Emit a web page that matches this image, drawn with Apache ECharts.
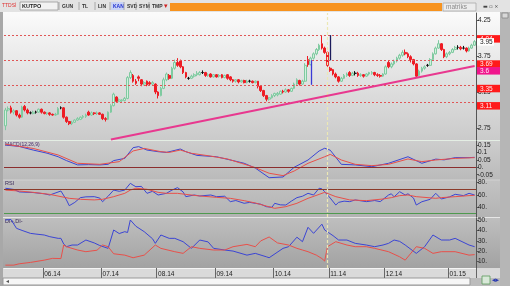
<!DOCTYPE html>
<html><head><meta charset="utf-8">
<script src="https://cdn.jsdelivr.net/npm/echarts@6/dist/echarts.min.js"></script>
<style>html,body{margin:0;padding:0;background:#bdbdbd;}#c{width:510px;height:286px;}</style>
</head><body><div id="c"></div>
<script>
// ---- DATA ----
// candles: [open, close, low, high]
const candles = [
[2.78,3.00,2.72,3.03],[3.00,3.02,2.98,3.05],[3.03,2.97,2.95,3.06],[2.97,2.99,2.94,3.01],[2.99,2.93,2.91,3.00],
[2.93,2.90,2.88,2.95],[2.90,3.04,2.89,3.06],[3.05,3.00,2.98,3.07],[3.00,2.96,2.94,3.02],[2.96,2.96,2.94,2.98],
[2.95,2.97,2.94,2.99],[2.97,2.97,2.95,2.99],[2.97,3.01,2.96,3.02],[3.01,2.97,2.95,3.02],[2.97,2.95,2.94,2.98],
[2.95,2.96,2.93,2.97],[2.96,2.94,2.92,2.97],[2.94,2.93,2.92,2.95],[2.93,2.94,2.92,2.96],[2.94,3.02,2.93,3.04],
[3.03,3.03,3.01,3.05],[3.03,2.90,2.88,3.04],[2.90,2.84,2.82,2.91],[2.84,2.81,2.79,2.85],[2.81,2.83,2.79,2.85],
[2.83,2.86,2.82,2.87],[2.86,2.88,2.85,2.90],[2.87,2.90,2.86,2.91],[2.90,2.91,2.88,2.93],[2.91,2.93,2.89,2.95],
[2.97,2.93,2.92,2.99],[2.93,2.96,2.92,2.98],[2.96,2.95,2.93,2.97],[2.95,2.96,2.93,2.98],[2.96,2.94,2.93,2.97],
[2.94,2.88,2.86,2.95],[2.88,2.87,2.84,2.90],[2.87,2.97,2.86,2.98],[2.97,3.06,2.96,3.08],[3.06,3.22,3.05,3.24],
[3.18,3.12,3.10,3.19],[3.12,3.14,3.11,3.16],[3.13,3.14,3.11,3.15],[3.13,3.16,3.12,3.18],[3.16,3.45,3.15,3.47],
[3.45,3.52,3.43,3.55],[3.48,3.40,3.38,3.50],[3.40,3.37,3.35,3.43],[3.46,3.44,3.40,3.48],[3.42,3.36,3.33,3.43],
[3.36,3.38,3.34,3.40],[3.40,3.35,3.33,3.41],[3.38,3.36,3.34,3.40],[3.36,3.38,3.34,3.40],[3.36,3.25,3.22,3.37],
[3.25,3.20,3.16,3.26],[3.20,3.30,3.19,3.32],[3.30,3.42,3.29,3.45],[3.42,3.50,3.40,3.52],[3.48,3.44,3.42,3.50],
[3.44,3.58,3.43,3.60],[3.58,3.66,3.56,3.70],[3.66,3.62,3.60,3.72],[3.68,3.60,3.58,3.70],[3.60,3.52,3.50,3.61],
[3.52,3.46,3.44,3.53],[3.44,3.44,3.42,3.46],[3.44,3.47,3.43,3.49],[3.47,3.49,3.45,3.51],[3.49,3.51,3.47,3.54],
[3.49,3.52,3.48,3.54],[3.52,3.52,3.50,3.55],[3.52,3.48,3.46,3.53],[3.48,3.49,3.46,3.51],[3.50,3.46,3.45,3.51],
[3.46,3.49,3.45,3.50],[3.49,3.46,3.45,3.50],[3.47,3.48,3.45,3.50],[3.49,3.45,3.44,3.50],[3.45,3.48,3.44,3.49],
[3.49,3.44,3.42,3.50],[3.46,3.42,3.40,3.47],[3.42,3.40,3.38,3.43],[3.40,3.42,3.38,3.43],[3.42,3.39,3.37,3.43],
[3.39,3.41,3.38,3.42],[3.41,3.38,3.37,3.42],[3.38,3.40,3.37,3.42],[3.40,3.40,3.38,3.42],[3.40,3.38,3.37,3.41],
[3.38,3.40,3.37,3.41],[3.40,3.33,3.30,3.40],[3.33,3.27,3.25,3.34],[3.27,3.20,3.18,3.28],[3.20,3.15,3.12,3.21],
[3.15,3.17,3.13,3.18],[3.17,3.20,3.16,3.22],[3.20,3.23,3.18,3.24],[3.21,3.23,3.19,3.25],[3.22,3.26,3.21,3.27],
[3.26,3.25,3.23,3.28],[3.25,3.28,3.24,3.30],[3.28,3.26,3.24,3.29],[3.26,3.30,3.25,3.31],[3.30,3.36,3.29,3.38],
[3.36,3.42,3.34,3.44],[3.41,3.36,3.34,3.42],[3.36,3.40,3.35,3.42],[3.40,3.62,3.39,3.65],[3.70,3.63,3.60,3.75],
[3.63,3.72,3.62,3.74],[3.72,3.78,3.70,3.80],[3.78,3.84,3.76,3.86],[3.84,3.90,3.82,3.92],[3.92,3.86,3.84,4.03],
[3.86,3.80,3.78,3.88],[3.80,3.62,3.60,3.81],[3.58,3.55,3.53,3.60],[3.56,3.50,3.48,3.57],[3.50,3.46,3.44,3.52],
[3.46,3.40,3.38,3.47],[3.40,3.44,3.39,3.46],[3.44,3.48,3.43,3.50],[3.48,3.50,3.46,3.52],[3.52,3.48,3.46,3.54],
[3.48,3.51,3.47,3.53],[3.51,3.51,3.48,3.54],[3.51,3.48,3.46,3.53],[3.48,3.49,3.46,3.51],[3.49,3.47,3.45,3.50],
[3.47,3.50,3.46,3.51],[3.50,3.52,3.48,3.53],[3.51,3.52,3.49,3.54],[3.52,3.49,3.47,3.53],[3.49,3.48,3.46,3.51],
[3.48,3.47,3.45,3.50],[3.47,3.50,3.46,3.51],[3.50,3.60,3.49,3.62],[3.66,3.60,3.58,3.68],[3.60,3.64,3.58,3.66],
[3.64,3.68,3.62,3.70],[3.68,3.72,3.66,3.74],[3.72,3.76,3.70,3.78],[3.76,3.80,3.74,3.83],[3.80,3.78,3.76,3.84],
[3.78,3.74,3.72,3.80],[3.74,3.70,3.66,3.76],[3.70,3.64,3.62,3.71],[3.64,3.47,3.45,3.65],[3.48,3.54,3.47,3.56],
[3.54,3.58,3.52,3.60],[3.58,3.60,3.56,3.62],[3.62,3.62,3.60,3.64],[3.62,3.70,3.61,3.72],[3.70,3.78,3.69,3.80],
[3.78,3.86,3.77,3.88],[3.86,3.92,3.85,3.97],[3.92,3.84,3.82,3.93],[3.84,3.74,3.72,3.85],[3.74,3.78,3.72,3.80],
[3.78,3.80,3.76,3.82],[3.80,3.84,3.79,3.86],[3.84,3.87,3.83,3.89],[3.87,3.87,3.84,3.90],[3.87,3.85,3.83,3.89],
[3.86,3.86,3.84,3.89],[3.86,3.82,3.80,3.87],[3.82,3.86,3.81,3.88],[3.86,3.90,3.85,3.92],[3.90,3.95,3.89,3.97]
];
const monthStartIdx = [14, 35, 55, 76, 97, 117, 137, 160];
const monthLabels = ['06.14','07.14','08.14','09.14','10.14','11.14','12.14','01.15'];
const priceTicks = [2.75, 3.25, 3.75, 4.25];
const levelValues = [4.04, 3.69, 3.35, 3.11];
const levelLabels = ['4.04', '3.69', '3.35', '3.11'];
const lastPrice = 3.95;
const trendStart = [38, 2.59];
const trendEnd = [169, 3.61];
const trendLabel = '3.6';
const gapSegments = [[110, 3.35, 3.69], [117, 3.69, 4.04]];
const cursorIdx = 116;

const macdLine = [[0,0.150],[5,0.140],[10,0.116],[15,0.095],[19,0.071],[22,0.045],[26,0.016],[30,0.018],[34,0.016],[37,0.020],[39,0.045],[43,0.060],[46,0.132],[48,0.139],[51,0.116],[55,0.105],[58,0.100],[63,0.123],[65,0.105],[69,0.080],[76,0.071],[82,0.045],[86,0.027],[90,-0.005],[95,-0.070],[100,-0.065],[104,0.000],[109,0.049],[113,0.110],[115,0.128],[117,0.115],[121,0.020],[126,0.016],[132,0.004],[138,0.027],[145,0.071],[150,0.027],[155,0.055],[158,0.050],[162,0.065],[167,0.065],[169,0.067]];
const macdSignal = [[0,0.155],[10,0.127],[19,0.083],[26,0.027],[34,0.020],[41,0.038],[46,0.110],[50,0.127],[56,0.105],[59,0.100],[63,0.116],[67,0.094],[73,0.078],[80,0.056],[85,0.027],[90,-0.002],[95,-0.040],[100,-0.056],[104,-0.025],[109,0.027],[115,0.071],[117,0.087],[121,0.049],[126,0.020],[132,0.011],[138,0.020],[145,0.056],[150,0.038],[155,0.049],[162,0.060],[169,0.065]];
const macdTicks = [-0.05, 0, 0.05, 0.1, 0.15];

const rsiLine = [[0,71],[3,69],[5,65],[10,64],[14,62],[16,60],[20,66.5],[22,52],[23,42.6],[25,48],[27,55.7],[29,57],[32,57.3],[34,55],[35,49],[37,58],[39,68],[41,66],[43,68],[45,79],[46,76],[47,73.5],[49,74],[51,62.7],[53,66],[55,60],[58,62.7],[60,68],[62,72],[64,65],[65,57.3],[68,60],[70,58.4],[74,60],[76,57.3],[79,58],[81,49.2],[83,51],[86,46.5],[88,48],[90,46.5],[92,45],[94,41],[96,40],[97,46.5],[99,44],[101,43.7],[103,50],[105,55.7],[107,58],[109,62.7],[111,60],[113,71],[114,70],[115,65.4],[117,55],[119,43.7],[120,48],[122,50],[124,49.2],[126,52],[130,49.2],[133,51],[135,49.2],[138,60],[139,62],[140,57],[142,65.4],[144,60],[145,62],[147,55],[148,43.7],[150,49],[153,53],[155,62.7],[157,53.5],[160,57],[162,61.1],[165,59],[167,62.7],[169,60]];
const rsiSignal = [[0,68],[5,66.5],[10,64.3],[16,61],[23,54.6],[27,53],[32,52],[35,53],[39,57.3],[43,62.7],[45,68],[47,71],[51,69.3],[55,64.3],[58,62.7],[62,62.7],[65,61],[70,58.4],[76,56.2],[81,54.6],[86,50.8],[90,47],[94,42],[97,38.3],[101,41],[105,46.5],[109,54.6],[113,61],[115,64.3],[119,57.3],[124,52],[130,50.8],[136,53.5],[139,55.7],[142,59],[145,60],[148,57.3],[155,54.6],[157,55.7],[162,57.3],[167,59],[169,59.5]];
const rsiTicks = [40, 60, 80];
const rsiHigh = 70, rsiLow = 30;

const diPlus = [[0,50],[2,50.5],[4,42],[6,40],[9,37.2],[11,36.5],[14,35.6],[16,34],[19,32.4],[20,32.4],[21,27],[22,24.4],[24,26],[26,26],[29,30.8],[32,28],[34,25.5],[37,22.8],[39,40.4],[41,37],[43,38.8],[44,38],[45,50],[47,44],[50,38.8],[53,32],[54,27.6],[56,35.6],[59,32.4],[61,32.4],[64,29.2],[67,22.8],[70,30.8],[73,29],[75,22.8],[79,21.2],[82,20.2],[87,16.3],[90,18],[94,14.7],[95,13.8],[100,22.8],[102,24.4],[105,33.5],[107,29.2],[109,43],[111,37.2],[114,46],[115,40.4],[118,35],[120,30.8],[123,30.8],[126,27.6],[130,26],[133,24.4],[136,26],[138,27.6],[140,30.8],[142,29.5],[144,26],[148,18],[151,24.4],[154,35.6],[157,30.8],[160,30.8],[162,32.4],[167,26],[169,24.4]];
const diMinus = [[0,6.7],[3,6.7],[5,8],[9,9.3],[14,11.5],[17,13.2],[20,13],[21,26],[22,24.4],[26,21.2],[29,19.6],[33,21],[35,26],[37,24.4],[39,17.6],[43,16.3],[46,13.8],[50,16.3],[54,26],[56,22.8],[61,19.6],[64,18],[67,24.4],[70,22.8],[75,21.2],[79,21.2],[82,24.4],[87,26.6],[90,24.4],[92,30],[95,33.7],[98,28],[102,26],[105,22.8],[107,21.2],[109,19.6],[112,16.3],[114,13],[115,10.6],[116,24.4],[119,29.2],[123,26],[126,24.4],[130,24.4],[133,22.8],[138,19.6],[142,14.7],[144,11.5],[148,24.4],[151,22.8],[154,18],[157,19.6],[162,19.6],[167,16.3],[169,16.8]];
const dmiTicks = [10, 20, 30, 40, 50];

const toolbarButtons = ['GUN','TL','LIN','KAN','SVD','SYM','TMP'];

// ---- CHART ----
const chart = echarts.init(document.getElementById('c'), null, {renderer:'canvas', width:510, height:286});
const FONT = 'Liberation Sans';
const cats = candles.map((_, i) => i);
const L = 4, R = 34;
const grids = [
  {left:L, right:R, top:13, height:127},
  {left:L, right:R, top:141, height:39},
  {left:L, right:R, top:180, height:37},
  {left:L, right:R, top:218, height:50}
];
const isMonth = (i) => monthStartIdx.indexOf(i) >= 0;
const xAxes = grids.map((g, k) => ({
  type:'category', gridIndex:k, data:cats, boundaryGap:true,
  axisLine:{show:k===3, lineStyle:{color:'#f4f4f4'}},
  axisTick:{show:k===3, length:10, interval:(i)=>isMonth(i), lineStyle:{color:'#666'}},
  axisLabel:{show:k===3, interval:(i)=>isMonth(i), formatter:(v, i)=>{const m = monthStartIdx.indexOf(i); return m >= 0 ? monthLabels[m] : '';},
    align:'left', margin:3, fontSize:6.5, color:'#222', fontFamily:FONT, hideOverlap:false},
  splitLine:{show:false}
}));
const yAx = (k, min, max, ticks, fmt) => ({
  type:'value', gridIndex:k, position:'right', min, max,
  splitLine:{show:false},
  axisLine:{show:true, lineStyle:{color:'#555'}},
  axisTick:{show:true, length:3, customValues:ticks, lineStyle:{color:'#555'}},
  axisLabel:{customValues:ticks, formatter:fmt, fontSize:6.5, color:'#222', fontFamily:FONT, margin:2}
});
const yAxes = [
  yAx(0, 4.25 - 120/72, 4.25 + 7/72, priceTicks, v => v.toFixed(2)),
  yAx(1, -12.7/148.7, 26.3/148.7, macdTicks, v => v === 0 ? '0.' : String(+v.toFixed(2))),
  yAx(2, 60 - 22/0.615, 60 + 15/0.615, rsiTicks, v => v + '.'),
  yAx(3, 50 - 48/1.0425, 50 + 2/1.0425, dmiTicks, v => v + '.')
];
const cursorLine = {xAxis: cursorIdx, lineStyle:{color:'#ece8b4', width:1.2, type:[3,2]}};
const mlBase = {silent:true, symbol:['none','none'], label:{show:false}, animation:false};

const priceMarks = [];
levelValues.forEach(v => priceMarks.push({yAxis:v, lineStyle:{color:'#e05656', width:1, type:[2,2]}}));
priceMarks.push(cursorLine);
priceMarks.push([{coord:trendStart, lineStyle:{color:'#e8388f', width:2, type:'solid'}}, {coord:trendEnd}]);
gapSegments.forEach((s, k) => priceMarks.push([{coord:[s[0], s[1]], lineStyle:{color:k===0?'#3a3ad6':'#1c1c5c', width:1.3, type:'solid'}}, {coord:[s[0], s[2]]}]));

const lineS = (name, data, xi, color, marks) => ({
  name, type:'line', data, xAxisIndex:xi, yAxisIndex:xi, showSymbol:false, symbol:'none',
  lineStyle:{color, width:1}, itemStyle:{color}, z:3,
  markLine: marks ? Object.assign({}, mlBase, {data:marks}) : undefined
});

const staticGraphics = [
  {type:'rect', z:-20, shape:{x:0,y:0,width:510,height:286}, style:{fill:'#bcbcbc'}},
  {type:'rect', z:-19, shape:{x:0,y:0,width:510,height:12}, style:{fill:'#e3e3e3'}},
  {type:'rect', z:-18, shape:{x:3,y:12,width:497,height:129}, style:{fill:new echarts.graphic.LinearGradient(0,0,0,1,[{offset:0,color:'#fbfbfb'},{offset:1,color:'#cacaca'}])}},
  {type:'rect', z:-18, shape:{x:3,y:141,width:497,height:39}, style:{fill:new echarts.graphic.LinearGradient(0,0,0,1,[{offset:0,color:'#cdcdcd'},{offset:1,color:'#bababa'}])}},
  {type:'rect', z:-18, shape:{x:3,y:180,width:497,height:37}, style:{fill:new echarts.graphic.LinearGradient(0,0,0,1,[{offset:0,color:'#c3c3c3'},{offset:1,color:'#b3b3b3'}])}},
  {type:'rect', z:-18, shape:{x:3,y:217,width:497,height:51}, style:{fill:new echarts.graphic.LinearGradient(0,0,0,1,[{offset:0,color:'#bfbfbf'},{offset:1,color:'#a2a2a2'}])}},
  {type:'rect', z:-18, shape:{x:3,y:268,width:497,height:10}, style:{fill:'#dadada'}},
  {type:'rect', z:-17, shape:{x:3,y:278,width:467,height:7}, style:{fill:'#f6f6f6', stroke:'#999', lineWidth:1}},
  {type:'text', z:-16, x:6, y:281.5, style:{text:'◂', fill:'#555', font:'6px "DejaVu Sans"', textVerticalAlign:'middle'}},
  {type:'rect', z:-18, shape:{x:500,y:12,width:10,height:274}, style:{fill:'#b6b6b6'}},
  {type:'rect', z:-17, shape:{x:502,y:13,width:6,height:5}, style:{fill:'#d8d8d8', stroke:'#888', lineWidth:0.8}},
  {type:'rect', z:-18, shape:{x:0,y:12,width:3,height:274}, style:{fill:'#a8a8a8'}},
  {type:'line', z:-15, shape:{x1:3,y1:140.5,x2:500,y2:140.5}, style:{stroke:'#e4eee4', lineWidth:1}},
  {type:'line', z:-15, shape:{x1:3,y1:180,x2:500,y2:180}, style:{stroke:'#d2d2d2', lineWidth:1}},
  {type:'line', z:-15, shape:{x1:3,y1:217.5,x2:500,y2:217.5}, style:{stroke:'#e6e6e6', lineWidth:1}},
  // toolbar
  {type:'text', x:2, y:6, style:{text:'TTDSİ', fill:'#e03030', font:'5px "Liberation Sans"', textVerticalAlign:'middle'}},
  {type:'rect', shape:{x:20,y:2,width:38,height:8}, style:{fill:'#f2f2f2', stroke:'#9a9a9a', lineWidth:0.8}},
  {type:'text', x:22, y:6.2, style:{text:'KUTPO', fill:'#222', font:'bold 5.5px "Liberation Sans"', textVerticalAlign:'middle'}},
  {type:'rect', shape:{x:111,y:2,width:13,height:8}, style:{fill:'#c9d3f5'}},
  {type:'rect', shape:{x:170,y:3,width:272,height:8}, style:{fill:'#f7931e'}},
  {type:'rect', shape:{x:443,y:3,width:33,height:8}, style:{fill:'#ececec', stroke:'#aaa', lineWidth:0.8}},
  {type:'text', x:446, y:7.2, style:{text:'matriks', fill:'#8a8a8a', font:'6.5px "Liberation Sans"', textVerticalAlign:'middle'}},
  {type:'text', x:483, y:6.5, style:{text:'▬ ▫ ×', fill:'#444', font:'5px "DejaVu Sans"', textVerticalAlign:'middle'}},
  {type:'text', x:164, y:6.5, style:{text:'▾', fill:'#d02020', font:'7px "DejaVu Sans"', textVerticalAlign:'middle'}},
  // panel labels
  {type:'text', x:5, y:145, style:{text:'MACD(12,26,9)', fill:'#4a2a6a', font:'5px "Liberation Sans"', textVerticalAlign:'middle'}},
  {type:'text', x:5, y:183.5, style:{text:'RSI', fill:'#3a2a5a', font:'5.5px "Liberation Sans"', textVerticalAlign:'middle'}},
  {type:'text', x:5, y:221, style:{text:'DI+,DI-', fill:'#3a2a5a', font:'5.5px "Liberation Sans"', textVerticalAlign:'middle'}},
  // bottom right icons
  {type:'rect', shape:{x:482,y:276,width:8,height:8}, style:{fill:'#d8e8d8', stroke:'#5a9a5a', lineWidth:0.8}},
  {type:'text', x:492, y:280.5, style:{text:'◂▸', fill:'#2a3ab0', font:'7px "DejaVu Sans"', textVerticalAlign:'middle'}}
];
const btnX = [62, 82, 98, 113, 127, 139, 152];
toolbarButtons.forEach((b, k) => {
  staticGraphics.push({type:'text', x:btnX[k], y:6.2, style:{text:b, fill: b==='KAN' ? '#2030d0' : '#333', font:'bold 5px "Liberation Sans"', textVerticalAlign:'middle'}});
  staticGraphics.push({type:'line', shape:{x1:btnX[k]-3,y1:2,x2:btnX[k]-3,y2:10}, style:{stroke:'#999', lineWidth:0.8}});
});

const option = {
  animation:false,
  backgroundColor:'#bcbcbc',
  grid: grids,
  xAxis: xAxes,
  yAxis: yAxes,
  graphic: staticGraphics,
  series: [
    {type:'candlestick', data:candles, xAxisIndex:0, yAxisIndex:0, barWidth:2.2, z:3,
     itemStyle:{color:'#d2f0de', color0:'#ee1c24', borderColor:'#7fcaa0', borderColor0:'#ee1c24', borderColorDoji:'#111', borderWidth:1},
     markLine:Object.assign({}, mlBase, {data:priceMarks})},
    lineS('MACD', macdLine, 1, '#3b45d4', [{yAxis:0, lineStyle:{color:'#8b2e2e', width:1, type:'solid'}}, cursorLine]),
    lineS('Signal', macdSignal, 1, '#e8504a'),
    lineS('RSI', rsiLine, 2, '#3b45d4', [{yAxis:rsiHigh, lineStyle:{color:'#8b3a2a', width:1, type:'solid'}}, {yAxis:rsiLow, lineStyle:{color:'#4f9a4f', width:1, type:'solid'}}, cursorLine]),
    lineS('RSI MA', rsiSignal, 2, '#e8504a'),
    lineS('DI+', diPlus, 3, '#3b45d4', [cursorLine]),
    lineS('DI-', diMinus, 3, '#e8504a')
  ]
};
chart.setOption(option);

// value labels on the price axis, placed through the axis scale
const py = v => chart.convertToPixel({yAxisIndex:0}, v);
const dyn = [];
const addBox = (y, fill, text, color, w) => {
  dyn.push({type:'rect', z:50, shape:{x:477, y:y, width:w, height:7.5}, style:{fill}});
  dyn.push({type:'text', z:51, x:480, y:y+4, style:{text, fill:color, font:'6.5px "Liberation Sans"', textVerticalAlign:'middle'}});
};
levelValues.forEach((v, k) => addBox(py(v), '#ff1a1a', levelLabels[k], '#ffecec', 23));
addBox(py(trendEnd[1]) + 1, '#f0158c', trendLabel, '#ffe8f4', 23);
addBox(py(lastPrice) - 3.5, '#ffffff', lastPrice.toFixed(2), '#222', 17);
option.graphic = staticGraphics.concat(dyn);
chart.setOption(option, true);
</script>
</body></html>
